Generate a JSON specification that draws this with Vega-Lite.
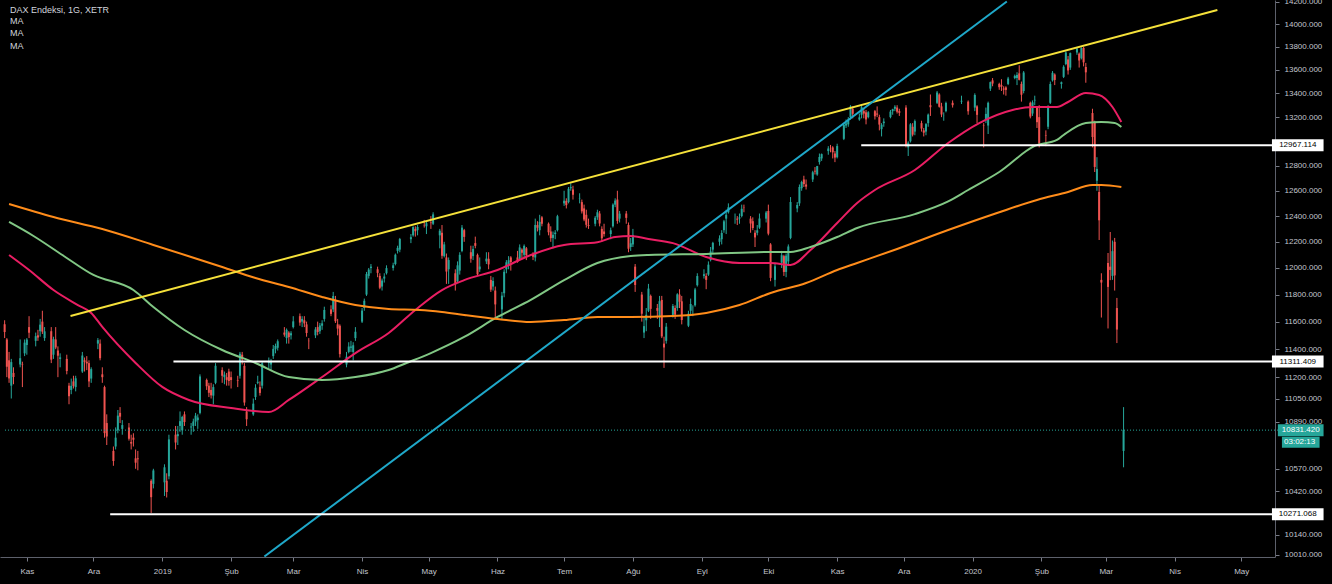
{
  "$schema": "https://vega.github.io/schema/vega-lite/v6.json",
  "width": 1275,
  "height": 557,
  "autosize": "none",
  "padding": {"left": 0, "top": 0, "right": 57, "bottom": 27},
  "background": "#000000",
  "title": {
    "text": "DAX Endeksi, 1G, XETR",
    "subtitle": ["MA", "MA", "MA"],
    "anchor": "start",
    "frame": "group",
    "orient": "top",
    "offset": -53,
    "dx": 10,
    "color": "#d1d4dc",
    "subtitleColor": "#d1d4dc",
    "font": "Liberation Sans",
    "subtitleFont": "Liberation Sans",
    "fontSize": 9,
    "subtitleFontSize": 9,
    "fontWeight": "normal",
    "subtitlePadding": 2,
    "subtitleLineHeight": 12.3
  },
  "config": {
    "view": {"stroke": null},
    "axis": {"grid": false, "labelFont": "Liberation Sans", "labelColor": "#c3c6ce", "labelFontSize": 8, "tickSize": 4, "tickColor": "#787b86", "domainColor": "#5d606b", "labelPadding": 5, "labelFlush": false, "labelOverlap": false}
  },
  "datasets": {
    "candles": [
      {"d":"2018-10-22","o":11580,"h":11610,"l":11480,"c":11524},
      {"d":"2018-10-23","o":11470,"h":11480,"l":11200,"c":11274},
      {"d":"2018-10-24","o":11320,"h":11380,"l":11160,"c":11191},
      {"d":"2018-10-25","o":11140,"h":11330,"l":11050,"c":11307},
      {"d":"2018-10-26","o":11230,"h":11270,"l":11150,"c":11201},
      {"d":"2018-10-29","o":11290,"h":11470,"l":11270,"c":11335},
      {"d":"2018-10-30","o":11290,"h":11310,"l":11130,"c":11287},
      {"d":"2018-10-31","o":11370,"h":11470,"l":11350,"c":11447},
      {"d":"2018-11-01","o":11430,"h":11480,"l":11360,"c":11469},
      {"d":"2018-11-02","o":11560,"h":11640,"l":11480,"c":11519},
      {"d":"2018-11-05","o":11460,"h":11520,"l":11420,"c":11494},
      {"d":"2018-11-06","o":11500,"h":11540,"l":11460,"c":11484},
      {"d":"2018-11-07","o":11530,"h":11620,"l":11490,"c":11578},
      {"d":"2018-11-08","o":11600,"h":11680,"l":11510,"c":11527},
      {"d":"2018-11-09","o":11480,"h":11560,"l":11460,"c":11529},
      {"d":"2018-11-12","o":11530,"h":11560,"l":11300,"c":11325},
      {"d":"2018-11-13","o":11360,"h":11490,"l":11330,"c":11472},
      {"d":"2018-11-14","o":11470,"h":11560,"l":11400,"c":11412},
      {"d":"2018-11-15","o":11390,"h":11420,"l":11200,"c":11353},
      {"d":"2018-11-16","o":11330,"h":11370,"l":11270,"c":11341},
      {"d":"2018-11-19","o":11330,"h":11360,"l":11220,"c":11244},
      {"d":"2018-11-20","o":11140,"h":11160,"l":11010,"c":11066},
      {"d":"2018-11-21","o":11110,"h":11190,"l":11080,"c":11139},
      {"d":"2018-11-22","o":11170,"h":11210,"l":11120,"c":11138},
      {"d":"2018-11-23","o":11130,"h":11210,"l":11100,"c":11192},
      {"d":"2018-11-26","o":11240,"h":11380,"l":11230,"c":11354},
      {"d":"2018-11-27","o":11320,"h":11340,"l":11240,"c":11309},
      {"d":"2018-11-28","o":11310,"h":11350,"l":11250,"c":11298},
      {"d":"2018-11-29","o":11300,"h":11320,"l":11130,"c":11170},
      {"d":"2018-11-30","o":11190,"h":11270,"l":11160,"c":11257},
      {"d":"2018-12-03","o":11440,"h":11480,"l":11400,"c":11465},
      {"d":"2018-12-04","o":11440,"h":11470,"l":11320,"c":11335},
      {"d":"2018-12-05","o":11220,"h":11270,"l":11160,"c":11200},
      {"d":"2018-12-06","o":11130,"h":11140,"l":10780,"c":10811},
      {"d":"2018-12-07","o":10880,"h":10940,"l":10730,"c":10788},
      {"d":"2018-12-10","o":10690,"h":10720,"l":10590,"c":10622},
      {"d":"2018-12-11","o":10720,"h":10850,"l":10700,"c":10780},
      {"d":"2018-12-12","o":10830,"h":10970,"l":10810,"c":10931},
      {"d":"2018-12-13","o":10950,"h":10990,"l":10880,"c":10924},
      {"d":"2018-12-14","o":10840,"h":10900,"l":10800,"c":10866},
      {"d":"2018-12-17","o":10850,"h":10880,"l":10760,"c":10772},
      {"d":"2018-12-18","o":10750,"h":10800,"l":10700,"c":10740},
      {"d":"2018-12-19","o":10780,"h":10810,"l":10720,"c":10766},
      {"d":"2018-12-20","o":10640,"h":10700,"l":10570,"c":10611},
      {"d":"2018-12-21","o":10640,"h":10690,"l":10560,"c":10634},
      {"d":"2018-12-27","o":10490,"h":10500,"l":10279,"c":10382},
      {"d":"2018-12-28","o":10470,"h":10570,"l":10440,"c":10559},
      {"d":"2019-01-02","o":10480,"h":10600,"l":10390,"c":10580},
      {"d":"2019-01-03","o":10490,"h":10540,"l":10380,"c":10416},
      {"d":"2019-01-04","o":10520,"h":10800,"l":10500,"c":10768},
      {"d":"2019-01-07","o":10800,"h":10860,"l":10700,"c":10747},
      {"d":"2019-01-08","o":10790,"h":10860,"l":10730,"c":10804},
      {"d":"2019-01-09","o":10860,"h":10960,"l":10820,"c":10893},
      {"d":"2019-01-10","o":10830,"h":10930,"l":10800,"c":10922},
      {"d":"2019-01-11","o":10940,"h":10960,"l":10860,"c":10887},
      {"d":"2019-01-14","o":10850,"h":10880,"l":10800,"c":10856},
      {"d":"2019-01-15","o":10860,"h":10910,"l":10820,"c":10891},
      {"d":"2019-01-16","o":10890,"h":10950,"l":10860,"c":10931},
      {"d":"2019-01-17","o":10900,"h":10940,"l":10840,"c":10918},
      {"d":"2019-01-18","o":10950,"h":11220,"l":10940,"c":11205},
      {"d":"2019-01-21","o":11180,"h":11190,"l":11110,"c":11136},
      {"d":"2019-01-22","o":11140,"h":11160,"l":11060,"c":11090},
      {"d":"2019-01-23","o":11110,"h":11160,"l":11050,"c":11072},
      {"d":"2019-01-24","o":11070,"h":11150,"l":11010,"c":11130},
      {"d":"2019-01-25","o":11160,"h":11300,"l":11150,"c":11281},
      {"d":"2019-01-28","o":11250,"h":11270,"l":11160,"c":11210},
      {"d":"2019-01-29","o":11200,"h":11240,"l":11150,"c":11218},
      {"d":"2019-01-30","o":11200,"h":11230,"l":11140,"c":11181},
      {"d":"2019-01-31","o":11240,"h":11260,"l":11140,"c":11173},
      {"d":"2019-02-01","o":11200,"h":11240,"l":11120,"c":11180},
      {"d":"2019-02-04","o":11180,"h":11210,"l":11130,"c":11176},
      {"d":"2019-02-05","o":11210,"h":11380,"l":11190,"c":11367},
      {"d":"2019-02-06","o":11360,"h":11380,"l":11290,"c":11325},
      {"d":"2019-02-07","o":11280,"h":11300,"l":11000,"c":11022},
      {"d":"2019-02-08","o":10960,"h":10990,"l":10860,"c":10906},
      {"d":"2019-02-11","o":10940,"h":11050,"l":10930,"c":11014},
      {"d":"2019-02-12","o":11060,"h":11150,"l":11040,"c":11126},
      {"d":"2019-02-13","o":11160,"h":11210,"l":11150,"c":11167},
      {"d":"2019-02-14","o":11130,"h":11170,"l":11070,"c":11089},
      {"d":"2019-02-15","o":11140,"h":11310,"l":11120,"c":11299},
      {"d":"2019-02-18","o":11300,"h":11340,"l":11260,"c":11309},
      {"d":"2019-02-19","o":11290,"h":11330,"l":11250,"c":11309},
      {"d":"2019-02-20","o":11350,"h":11430,"l":11330,"c":11402},
      {"d":"2019-02-21","o":11400,"h":11440,"l":11370,"c":11423},
      {"d":"2019-02-22","o":11410,"h":11470,"l":11390,"c":11457},
      {"d":"2019-02-25","o":11520,"h":11560,"l":11490,"c":11505},
      {"d":"2019-02-26","o":11480,"h":11550,"l":11440,"c":11540},
      {"d":"2019-02-27","o":11520,"h":11530,"l":11440,"c":11487},
      {"d":"2019-02-28","o":11500,"h":11530,"l":11470,"c":11515},
      {"d":"2019-03-01","o":11560,"h":11640,"l":11550,"c":11602},
      {"d":"2019-03-04","o":11640,"h":11660,"l":11570,"c":11593},
      {"d":"2019-03-05","o":11600,"h":11640,"l":11560,"c":11620},
      {"d":"2019-03-06","o":11610,"h":11640,"l":11560,"c":11587},
      {"d":"2019-03-07","o":11580,"h":11600,"l":11490,"c":11517},
      {"d":"2019-03-08","o":11460,"h":11480,"l":11400,"c":11458},
      {"d":"2019-03-11","o":11500,"h":11560,"l":11480,"c":11543},
      {"d":"2019-03-12","o":11560,"h":11600,"l":11500,"c":11524},
      {"d":"2019-03-13","o":11530,"h":11590,"l":11510,"c":11572},
      {"d":"2019-03-14","o":11570,"h":11610,"l":11540,"c":11587},
      {"d":"2019-03-15","o":11620,"h":11710,"l":11600,"c":11686},
      {"d":"2019-03-18","o":11690,"h":11720,"l":11640,"c":11657},
      {"d":"2019-03-19","o":11690,"h":11820,"l":11670,"c":11789},
      {"d":"2019-03-20","o":11760,"h":11790,"l":11590,"c":11603},
      {"d":"2019-03-21","o":11580,"h":11620,"l":11500,"c":11549},
      {"d":"2019-03-22","o":11570,"h":11580,"l":11340,"c":11364},
      {"d":"2019-03-25","o":11290,"h":11380,"l":11270,"c":11346},
      {"d":"2019-03-26","o":11380,"h":11450,"l":11370,"c":11419},
      {"d":"2019-03-27","o":11410,"h":11460,"l":11380,"c":11419},
      {"d":"2019-03-28","o":11380,"h":11450,"l":11320,"c":11428},
      {"d":"2019-03-29","o":11480,"h":11560,"l":11460,"c":11526},
      {"d":"2019-04-01","o":11600,"h":11700,"l":11590,"c":11681},
      {"d":"2019-04-02","o":11700,"h":11770,"l":11680,"c":11754},
      {"d":"2019-04-03","o":11800,"h":11970,"l":11790,"c":11954},
      {"d":"2019-04-04","o":11940,"h":12000,"l":11920,"c":11988},
      {"d":"2019-04-05","o":12000,"h":12030,"l":11960,"c":12010},
      {"d":"2019-04-08","o":11990,"h":12010,"l":11930,"c":11963},
      {"d":"2019-04-09","o":11940,"h":11960,"l":11840,"c":11851},
      {"d":"2019-04-10","o":11860,"h":11920,"l":11830,"c":11905},
      {"d":"2019-04-11","o":11920,"h":11960,"l":11890,"c":11935},
      {"d":"2019-04-12","o":11960,"h":12020,"l":11950,"c":11999},
      {"d":"2019-04-15","o":12000,"h":12040,"l":11980,"c":12020},
      {"d":"2019-04-16","o":12030,"h":12110,"l":12020,"c":12101},
      {"d":"2019-04-17","o":12130,"h":12170,"l":12110,"c":12153},
      {"d":"2019-04-18","o":12140,"h":12230,"l":12120,"c":12222},
      {"d":"2019-04-23","o":12220,"h":12260,"l":12190,"c":12236},
      {"d":"2019-04-24","o":12250,"h":12320,"l":12240,"c":12314},
      {"d":"2019-04-25","o":12300,"h":12320,"l":12240,"c":12282},
      {"d":"2019-04-26","o":12290,"h":12330,"l":12250,"c":12315},
      {"d":"2019-04-29","o":12330,"h":12370,"l":12310,"c":12328},
      {"d":"2019-04-30","o":12320,"h":12360,"l":12260,"c":12344},
      {"d":"2019-05-02","o":12350,"h":12400,"l":12300,"c":12345},
      {"d":"2019-05-03","o":12340,"h":12430,"l":12330,"c":12413},
      {"d":"2019-05-06","o":12250,"h":12300,"l":12150,"c":12286},
      {"d":"2019-05-07","o":12270,"h":12330,"l":12070,"c":12093},
      {"d":"2019-05-08","o":12090,"h":12200,"l":12080,"c":12180},
      {"d":"2019-05-09","o":12080,"h":12110,"l":11880,"c":11973},
      {"d":"2019-05-10","o":11990,"h":12080,"l":11880,"c":12060},
      {"d":"2019-05-13","o":11960,"h":11990,"l":11830,"c":11877},
      {"d":"2019-05-14","o":11900,"h":12050,"l":11890,"c":12020},
      {"d":"2019-05-15","o":11980,"h":12120,"l":11950,"c":12100},
      {"d":"2019-05-16","o":12130,"h":12330,"l":12120,"c":12310},
      {"d":"2019-05-17","o":12290,"h":12300,"l":12200,"c":12238},
      {"d":"2019-05-20","o":12120,"h":12170,"l":12040,"c":12070},
      {"d":"2019-05-21","o":12090,"h":12170,"l":12060,"c":12145},
      {"d":"2019-05-22","o":12190,"h":12240,"l":12150,"c":12169},
      {"d":"2019-05-23","o":12100,"h":12110,"l":11940,"c":11952},
      {"d":"2019-05-24","o":11990,"h":12080,"l":11970,"c":12011},
      {"d":"2019-05-27","o":12050,"h":12120,"l":12030,"c":12071},
      {"d":"2019-05-28","o":12070,"h":12120,"l":11990,"c":12027},
      {"d":"2019-05-29","o":11910,"h":11940,"l":11820,"c":11837},
      {"d":"2019-05-30","o":11860,"h":11930,"l":11830,"c":11902},
      {"d":"2019-05-31","o":11830,"h":11860,"l":11620,"c":11727},
      {"d":"2019-06-03","o":11690,"h":11820,"l":11620,"c":11792},
      {"d":"2019-06-04","o":11810,"h":11990,"l":11780,"c":11971},
      {"d":"2019-06-05","o":11990,"h":12060,"l":11960,"c":12043},
      {"d":"2019-06-06","o":12030,"h":12090,"l":11990,"c":12059},
      {"d":"2019-06-07","o":12080,"h":12090,"l":11980,"c":12045},
      {"d":"2019-06-10","o":12080,"h":12130,"l":12040,"c":12045},
      {"d":"2019-06-11","o":12070,"h":12180,"l":12060,"c":12157},
      {"d":"2019-06-12","o":12140,"h":12150,"l":12070,"c":12116},
      {"d":"2019-06-13","o":12100,"h":12180,"l":12080,"c":12169},
      {"d":"2019-06-14","o":12150,"h":12160,"l":12060,"c":12096},
      {"d":"2019-06-17","o":12100,"h":12120,"l":12060,"c":12086},
      {"d":"2019-06-18","o":12080,"h":12380,"l":12050,"c":12331},
      {"d":"2019-06-19","o":12330,"h":12360,"l":12280,"c":12309},
      {"d":"2019-06-20","o":12290,"h":12410,"l":12250,"c":12355},
      {"d":"2019-06-21","o":12390,"h":12400,"l":12320,"c":12340},
      {"d":"2019-06-24","o":12340,"h":12350,"l":12250,"c":12274},
      {"d":"2019-06-25","o":12280,"h":12320,"l":12200,"c":12228},
      {"d":"2019-06-26","o":12230,"h":12280,"l":12150,"c":12254},
      {"d":"2019-06-27","o":12260,"h":12290,"l":12220,"c":12271},
      {"d":"2019-06-28","o":12290,"h":12410,"l":12280,"c":12399},
      {"d":"2019-07-01","o":12500,"h":12600,"l":12480,"c":12521},
      {"d":"2019-07-02","o":12520,"h":12540,"l":12460,"c":12486},
      {"d":"2019-07-03","o":12510,"h":12630,"l":12500,"c":12616},
      {"d":"2019-07-04","o":12620,"h":12660,"l":12600,"c":12629},
      {"d":"2019-07-05","o":12610,"h":12640,"l":12530,"c":12568},
      {"d":"2019-07-08","o":12540,"h":12580,"l":12500,"c":12543},
      {"d":"2019-07-09","o":12510,"h":12530,"l":12420,"c":12437},
      {"d":"2019-07-10","o":12460,"h":12490,"l":12360,"c":12373},
      {"d":"2019-07-11","o":12410,"h":12450,"l":12310,"c":12332},
      {"d":"2019-07-12","o":12330,"h":12380,"l":12300,"c":12323},
      {"d":"2019-07-15","o":12340,"h":12400,"l":12320,"c":12387},
      {"d":"2019-07-16","o":12390,"h":12450,"l":12370,"c":12430},
      {"d":"2019-07-17","o":12420,"h":12440,"l":12320,"c":12342},
      {"d":"2019-07-18","o":12300,"h":12320,"l":12200,"c":12227},
      {"d":"2019-07-19","o":12280,"h":12340,"l":12240,"c":12260},
      {"d":"2019-07-22","o":12260,"h":12310,"l":12220,"c":12289},
      {"d":"2019-07-23","o":12320,"h":12500,"l":12310,"c":12490},
      {"d":"2019-07-24","o":12490,"h":12540,"l":12470,"c":12522},
      {"d":"2019-07-25","o":12530,"h":12600,"l":12340,"c":12362},
      {"d":"2019-07-26","o":12380,"h":12440,"l":12350,"c":12419},
      {"d":"2019-07-29","o":12420,"h":12440,"l":12340,"c":12386},
      {"d":"2019-07-30","o":12330,"h":12350,"l":12120,"c":12147},
      {"d":"2019-07-31","o":12160,"h":12230,"l":12130,"c":12189},
      {"d":"2019-08-01","o":12180,"h":12300,"l":12160,"c":12253},
      {"d":"2019-08-02","o":12010,"h":12030,"l":11820,"c":11872},
      {"d":"2019-08-05","o":11800,"h":11820,"l":11600,"c":11658},
      {"d":"2019-08-06","o":11520,"h":11640,"l":11480,"c":11567},
      {"d":"2019-08-07","o":11610,"h":11700,"l":11530,"c":11650},
      {"d":"2019-08-08","o":11680,"h":11880,"l":11670,"c":11845},
      {"d":"2019-08-09","o":11790,"h":11800,"l":11620,"c":11694},
      {"d":"2019-08-12","o":11700,"h":11730,"l":11620,"c":11680},
      {"d":"2019-08-13","o":11640,"h":11790,"l":11560,"c":11751},
      {"d":"2019-08-14","o":11760,"h":11790,"l":11480,"c":11492},
      {"d":"2019-08-15","o":11440,"h":11490,"l":11266,"c":11412},
      {"d":"2019-08-16","o":11460,"h":11590,"l":11440,"c":11563},
      {"d":"2019-08-19","o":11650,"h":11730,"l":11630,"c":11715},
      {"d":"2019-08-20","o":11700,"h":11720,"l":11620,"c":11651},
      {"d":"2019-08-21","o":11700,"h":11810,"l":11680,"c":11802},
      {"d":"2019-08-22","o":11800,"h":11840,"l":11700,"c":11747},
      {"d":"2019-08-23","o":11750,"h":11790,"l":11580,"c":11612},
      {"d":"2019-08-26","o":11570,"h":11680,"l":11560,"c":11658},
      {"d":"2019-08-27","o":11680,"h":11770,"l":11650,"c":11730},
      {"d":"2019-08-28","o":11700,"h":11720,"l":11640,"c":11701},
      {"d":"2019-08-29","o":11720,"h":11850,"l":11710,"c":11838},
      {"d":"2019-08-30","o":11870,"h":11960,"l":11860,"c":11939},
      {"d":"2019-09-02","o":11940,"h":11990,"l":11920,"c":11953},
      {"d":"2019-09-03","o":11940,"h":11960,"l":11840,"c":11910},
      {"d":"2019-09-04","o":11950,"h":12050,"l":11940,"c":12025},
      {"d":"2019-09-05","o":12060,"h":12160,"l":12050,"c":12126},
      {"d":"2019-09-06","o":12140,"h":12200,"l":12110,"c":12192},
      {"d":"2019-09-09","o":12200,"h":12250,"l":12170,"c":12226},
      {"d":"2019-09-10","o":12220,"h":12290,"l":12180,"c":12268},
      {"d":"2019-09-11","o":12290,"h":12370,"l":12270,"c":12359},
      {"d":"2019-09-12","o":12380,"h":12450,"l":12260,"c":12410},
      {"d":"2019-09-13","o":12430,"h":12500,"l":12420,"c":12469},
      {"d":"2019-09-16","o":12380,"h":12420,"l":12340,"c":12380},
      {"d":"2019-09-17","o":12380,"h":12400,"l":12330,"c":12372},
      {"d":"2019-09-18","o":12380,"h":12420,"l":12340,"c":12390},
      {"d":"2019-09-19","o":12400,"h":12490,"l":12390,"c":12457},
      {"d":"2019-09-20","o":12470,"h":12490,"l":12430,"c":12468},
      {"d":"2019-09-23","o":12380,"h":12400,"l":12270,"c":12342},
      {"d":"2019-09-24","o":12360,"h":12390,"l":12290,"c":12307},
      {"d":"2019-09-25","o":12270,"h":12290,"l":12160,"c":12234},
      {"d":"2019-09-26","o":12270,"h":12330,"l":12250,"c":12289},
      {"d":"2019-09-27","o":12310,"h":12420,"l":12300,"c":12381},
      {"d":"2019-09-30","o":12380,"h":12440,"l":12350,"c":12428},
      {"d":"2019-10-01","o":12440,"h":12490,"l":12250,"c":12263},
      {"d":"2019-10-02","o":12180,"h":12190,"l":11900,"c":11925},
      {"d":"2019-10-04","o":11910,"h":12040,"l":11860,"c":12013},
      {"d":"2019-10-07","o":12040,"h":12130,"l":12000,"c":12097},
      {"d":"2019-10-08","o":12090,"h":12100,"l":11940,"c":11970},
      {"d":"2019-10-09","o":11970,"h":12110,"l":11930,"c":12094},
      {"d":"2019-10-10","o":12050,"h":12180,"l":12020,"c":12164},
      {"d":"2019-10-11","o":12230,"h":12550,"l":12220,"c":12511},
      {"d":"2019-10-14","o":12460,"h":12510,"l":12430,"c":12487},
      {"d":"2019-10-15","o":12500,"h":12650,"l":12480,"c":12630},
      {"d":"2019-10-16","o":12620,"h":12680,"l":12600,"c":12670},
      {"d":"2019-10-17","o":12690,"h":12720,"l":12630,"c":12654},
      {"d":"2019-10-18","o":12650,"h":12690,"l":12610,"c":12633},
      {"d":"2019-10-21","o":12690,"h":12760,"l":12670,"c":12748},
      {"d":"2019-10-22","o":12760,"h":12790,"l":12730,"c":12754},
      {"d":"2019-10-23","o":12730,"h":12800,"l":12720,"c":12798},
      {"d":"2019-10-24","o":12830,"h":12900,"l":12810,"c":12872},
      {"d":"2019-10-25","o":12860,"h":12900,"l":12840,"c":12895},
      {"d":"2019-10-28","o":12920,"h":12960,"l":12890,"c":12941},
      {"d":"2019-10-29","o":12940,"h":12970,"l":12910,"c":12939},
      {"d":"2019-10-30","o":12950,"h":12960,"l":12860,"c":12910},
      {"d":"2019-10-31","o":12900,"h":12920,"l":12830,"c":12867},
      {"d":"2019-11-01","o":12870,"h":12980,"l":12860,"c":12961},
      {"d":"2019-11-04","o":13020,"h":13150,"l":13010,"c":13136},
      {"d":"2019-11-05","o":13130,"h":13180,"l":13110,"c":13148},
      {"d":"2019-11-06","o":13140,"h":13200,"l":13120,"c":13179},
      {"d":"2019-11-07","o":13200,"h":13300,"l":13180,"c":13289},
      {"d":"2019-11-08","o":13270,"h":13290,"l":13190,"c":13228},
      {"d":"2019-11-11","o":13180,"h":13230,"l":13170,"c":13198},
      {"d":"2019-11-12","o":13220,"h":13310,"l":13190,"c":13283},
      {"d":"2019-11-13","o":13250,"h":13270,"l":13190,"c":13230},
      {"d":"2019-11-14","o":13240,"h":13260,"l":13140,"c":13180},
      {"d":"2019-11-15","o":13200,"h":13250,"l":13190,"c":13241},
      {"d":"2019-11-18","o":13250,"h":13260,"l":13180,"c":13207},
      {"d":"2019-11-19","o":13230,"h":13290,"l":13200,"c":13221},
      {"d":"2019-11-20","o":13200,"h":13220,"l":13090,"c":13138},
      {"d":"2019-11-21","o":13100,"h":13150,"l":13040,"c":13137},
      {"d":"2019-11-22","o":13150,"h":13190,"l":13120,"c":13163},
      {"d":"2019-11-25","o":13200,"h":13260,"l":13190,"c":13246},
      {"d":"2019-11-26","o":13250,"h":13270,"l":13220,"c":13266},
      {"d":"2019-11-27","o":13270,"h":13300,"l":13250,"c":13287},
      {"d":"2019-11-28","o":13280,"h":13300,"l":13230,"c":13245},
      {"d":"2019-11-29","o":13250,"h":13270,"l":13210,"c":13236},
      {"d":"2019-12-02","o":13280,"h":13300,"l":12950,"c":12965},
      {"d":"2019-12-03","o":12950,"h":13000,"l":12880,"c":12989},
      {"d":"2019-12-04","o":13000,"h":13150,"l":12990,"c":13140},
      {"d":"2019-12-05","o":13120,"h":13150,"l":13040,"c":13055},
      {"d":"2019-12-06","o":13080,"h":13180,"l":13050,"c":13167},
      {"d":"2019-12-09","o":13150,"h":13170,"l":13080,"c":13105},
      {"d":"2019-12-10","o":13090,"h":13110,"l":13040,"c":13071},
      {"d":"2019-12-11","o":13080,"h":13150,"l":13050,"c":13142},
      {"d":"2019-12-12","o":13150,"h":13230,"l":13120,"c":13221},
      {"d":"2019-12-13","o":13300,"h":13390,"l":13210,"c":13283},
      {"d":"2019-12-16","o":13320,"h":13420,"l":13310,"c":13407},
      {"d":"2019-12-17","o":13390,"h":13400,"l":13280,"c":13287},
      {"d":"2019-12-18","o":13290,"h":13320,"l":13200,"c":13222},
      {"d":"2019-12-19","o":13210,"h":13240,"l":13170,"c":13211},
      {"d":"2019-12-20","o":13250,"h":13330,"l":13240,"c":13319},
      {"d":"2019-12-23","o":13320,"h":13340,"l":13280,"c":13300},
      {"d":"2019-12-27","o":13330,"h":13380,"l":13310,"c":13337},
      {"d":"2019-12-30","o":13330,"h":13340,"l":13220,"c":13249},
      {"d":"2020-01-02","o":13280,"h":13400,"l":13250,"c":13386},
      {"d":"2020-01-03","o":13290,"h":13300,"l":13150,"c":13219},
      {"d":"2020-01-06","o":13130,"h":13150,"l":12950,"c":13127},
      {"d":"2020-01-07","o":13180,"h":13280,"l":13150,"c":13227},
      {"d":"2020-01-08","o":13130,"h":13330,"l":13060,"c":13320},
      {"d":"2020-01-09","o":13440,"h":13500,"l":13420,"c":13495},
      {"d":"2020-01-10","o":13510,"h":13530,"l":13460,"c":13483},
      {"d":"2020-01-13","o":13480,"h":13490,"l":13430,"c":13452},
      {"d":"2020-01-14","o":13470,"h":13520,"l":13420,"c":13456},
      {"d":"2020-01-15","o":13440,"h":13460,"l":13390,"c":13432},
      {"d":"2020-01-16","o":13450,"h":13460,"l":13380,"c":13429},
      {"d":"2020-01-17","o":13480,"h":13540,"l":13470,"c":13526},
      {"d":"2020-01-20","o":13530,"h":13560,"l":13520,"c":13549},
      {"d":"2020-01-21","o":13530,"h":13580,"l":13470,"c":13556},
      {"d":"2020-01-22","o":13570,"h":13640,"l":13510,"c":13515},
      {"d":"2020-01-23","o":13480,"h":13500,"l":13330,"c":13388},
      {"d":"2020-01-24","o":13420,"h":13590,"l":13400,"c":13577},
      {"d":"2020-01-27","o":13320,"h":13330,"l":13190,"c":13205},
      {"d":"2020-01-28","o":13230,"h":13340,"l":13210,"c":13324},
      {"d":"2020-01-29","o":13340,"h":13380,"l":13300,"c":13345},
      {"d":"2020-01-30","o":13280,"h":13290,"l":13110,"c":13158},
      {"d":"2020-01-31","o":13200,"h":13300,"l":12950,"c":12982},
      {"d":"2020-02-03","o":13050,"h":13090,"l":12960,"c":13046},
      {"d":"2020-02-04","o":13120,"h":13300,"l":13100,"c":13282},
      {"d":"2020-02-05","o":13320,"h":13500,"l":13310,"c":13479},
      {"d":"2020-02-06","o":13510,"h":13590,"l":13500,"c":13575},
      {"d":"2020-02-07","o":13560,"h":13570,"l":13470,"c":13514},
      {"d":"2020-02-10","o":13480,"h":13500,"l":13440,"c":13494},
      {"d":"2020-02-11","o":13540,"h":13640,"l":13530,"c":13627},
      {"d":"2020-02-12","o":13650,"h":13760,"l":13640,"c":13750},
      {"d":"2020-02-13","o":13690,"h":13720,"l":13560,"c":13595},
      {"d":"2020-02-14","o":13620,"h":13750,"l":13600,"c":13745},
      {"d":"2020-02-17","o":13750,"h":13790,"l":13730,"c":13784},
      {"d":"2020-02-18","o":13740,"h":13750,"l":13620,"c":13681},
      {"d":"2020-02-19","o":13700,"h":13795,"l":13690,"c":13789},
      {"d":"2020-02-20","o":13790,"h":13800,"l":13630,"c":13665},
      {"d":"2020-02-21","o":13625,"h":13660,"l":13490,"c":13579},
      {"d":"2020-02-24","o":13234,"h":13270,"l":12950,"c":13035},
      {"d":"2020-02-25","o":13151,"h":13170,"l":12750,"c":12791},
      {"d":"2020-02-26","o":12680,"h":12870,"l":12600,"c":12775},
      {"d":"2020-02-27","o":12590,"h":12640,"l":12214,"c":12367},
      {"d":"2020-02-28","o":11910,"h":11960,"l":11630,"c":11890},
      {"d":"2020-03-02","o":12038,"h":12114,"l":11550,"c":11857},
      {"d":"2020-03-03","o":12010,"h":12276,"l":11908,"c":11985},
      {"d":"2020-03-04","o":11940,"h":12210,"l":11910,"c":12128},
      {"d":"2020-03-05","o":12200,"h":12230,"l":11830,"c":11944},
      {"d":"2020-03-06","o":11700,"h":11775,"l":11444,"c":11542},
      {"d":"2020-03-09","o":10690,"h":10990,"l":10580,"c":10831.42}
    ],
    "ma": [
      {"s":"MA1","d":"2018-10-24","v":12099},
      {"s":"MA1","d":"2018-11-02","v":11985},
      {"s":"MA1","d":"2018-11-13","v":11834},
      {"s":"MA1","d":"2018-11-24","v":11722},
      {"s":"MA1","d":"2018-11-30","v":11664},
      {"s":"MA1","d":"2018-12-05","v":11561},
      {"s":"MA1","d":"2018-12-20","v":11301},
      {"s":"MA1","d":"2019-01-01","v":11131},
      {"s":"MA1","d":"2019-01-13","v":11040},
      {"s":"MA1","d":"2019-02-01","v":10984},
      {"s":"MA1","d":"2019-02-18","v":10956},
      {"s":"MA1","d":"2019-02-27","v":11040},
      {"s":"MA1","d":"2019-03-14","v":11201},
      {"s":"MA1","d":"2019-03-29","v":11372},
      {"s":"MA1","d":"2019-04-13","v":11517},
      {"s":"MA1","d":"2019-04-25","v":11686},
      {"s":"MA1","d":"2019-05-07","v":11834},
      {"s":"MA1","d":"2019-05-17","v":11908},
      {"s":"MA1","d":"2019-06-01","v":11985},
      {"s":"MA1","d":"2019-06-16","v":12099},
      {"s":"MA1","d":"2019-07-01","v":12176},
      {"s":"MA1","d":"2019-07-16","v":12197},
      {"s":"MA1","d":"2019-07-24","v":12237},
      {"s":"MA1","d":"2019-07-31","v":12245},
      {"s":"MA1","d":"2019-08-08","v":12222},
      {"s":"MA1","d":"2019-08-19","v":12190},
      {"s":"MA1","d":"2019-09-03","v":12084},
      {"s":"MA1","d":"2019-09-18","v":12038},
      {"s":"MA1","d":"2019-10-02","v":12038},
      {"s":"MA1","d":"2019-10-11","v":12023},
      {"s":"MA1","d":"2019-10-20","v":12137},
      {"s":"MA1","d":"2019-11-01","v":12346},
      {"s":"MA1","d":"2019-11-10","v":12503},
      {"s":"MA1","d":"2019-11-18","v":12606},
      {"s":"MA1","d":"2019-12-06","v":12766},
      {"s":"MA1","d":"2019-12-21","v":12986},
      {"s":"MA1","d":"2020-01-04","v":13151},
      {"s":"MA1","d":"2020-01-19","v":13260},
      {"s":"MA1","d":"2020-01-28","v":13285},
      {"s":"MA1","d":"2020-02-08","v":13285},
      {"s":"MA1","d":"2020-02-13","v":13327},
      {"s":"MA1","d":"2020-02-21","v":13403},
      {"s":"MA1","d":"2020-02-27","v":13386},
      {"s":"MA1","d":"2020-03-04","v":13285},
      {"s":"MA1","d":"2020-03-08","v":13159},
      {"s":"MA2","d":"2018-10-24","v":12354},
      {"s":"MA2","d":"2018-11-04","v":12245},
      {"s":"MA2","d":"2018-11-17","v":12099},
      {"s":"MA2","d":"2018-12-01","v":11947},
      {"s":"MA2","d":"2018-12-19","v":11834},
      {"s":"MA2","d":"2018-12-28","v":11708},
      {"s":"MA2","d":"2019-01-11","v":11539},
      {"s":"MA2","d":"2019-01-28","v":11394},
      {"s":"MA2","d":"2019-02-12","v":11301},
      {"s":"MA2","d":"2019-02-27","v":11201},
      {"s":"MA2","d":"2019-03-14","v":11180},
      {"s":"MA2","d":"2019-03-29","v":11201},
      {"s":"MA2","d":"2019-04-13","v":11251},
      {"s":"MA2","d":"2019-04-21","v":11301},
      {"s":"MA2","d":"2019-05-02","v":11372},
      {"s":"MA2","d":"2019-05-17","v":11488},
      {"s":"MA2","d":"2019-06-01","v":11634},
      {"s":"MA2","d":"2019-06-16","v":11760},
      {"s":"MA2","d":"2019-07-01","v":11908},
      {"s":"MA2","d":"2019-07-16","v":12038},
      {"s":"MA2","d":"2019-07-31","v":12091},
      {"s":"MA2","d":"2019-08-08","v":12099},
      {"s":"MA2","d":"2019-09-03","v":12107},
      {"s":"MA2","d":"2019-10-02","v":12122},
      {"s":"MA2","d":"2019-10-11","v":12122},
      {"s":"MA2","d":"2019-10-20","v":12160},
      {"s":"MA2","d":"2019-11-01","v":12237},
      {"s":"MA2","d":"2019-11-10","v":12307},
      {"s":"MA2","d":"2019-12-06","v":12415},
      {"s":"MA2","d":"2019-12-21","v":12515},
      {"s":"MA2","d":"2019-12-30","v":12606},
      {"s":"MA2","d":"2020-01-13","v":12750},
      {"s":"MA2","d":"2020-01-29","v":12962},
      {"s":"MA2","d":"2020-02-08","v":13011},
      {"s":"MA2","d":"2020-02-11","v":13052},
      {"s":"MA2","d":"2020-02-21","v":13151},
      {"s":"MA2","d":"2020-02-28","v":13159},
      {"s":"MA2","d":"2020-03-05","v":13151},
      {"s":"MA2","d":"2020-03-08","v":13118},
      {"s":"MA3","d":"2018-10-24","v":12495},
      {"s":"MA3","d":"2018-11-13","v":12393},
      {"s":"MA3","d":"2018-12-05","v":12299},
      {"s":"MA3","d":"2018-12-28","v":12176},
      {"s":"MA3","d":"2019-01-14","v":12084},
      {"s":"MA3","d":"2019-01-28","v":12007},
      {"s":"MA3","d":"2019-02-12","v":11924},
      {"s":"MA3","d":"2019-02-27","v":11857},
      {"s":"MA3","d":"2019-03-14","v":11782},
      {"s":"MA3","d":"2019-03-29","v":11722},
      {"s":"MA3","d":"2019-04-13","v":11693},
      {"s":"MA3","d":"2019-04-27","v":11686},
      {"s":"MA3","d":"2019-05-07","v":11671},
      {"s":"MA3","d":"2019-05-17","v":11649},
      {"s":"MA3","d":"2019-06-01","v":11619},
      {"s":"MA3","d":"2019-06-16","v":11597},
      {"s":"MA3","d":"2019-07-01","v":11612},
      {"s":"MA3","d":"2019-07-16","v":11634},
      {"s":"MA3","d":"2019-07-31","v":11634},
      {"s":"MA3","d":"2019-08-19","v":11641},
      {"s":"MA3","d":"2019-09-03","v":11664},
      {"s":"MA3","d":"2019-09-18","v":11722},
      {"s":"MA3","d":"2019-10-02","v":11812},
      {"s":"MA3","d":"2019-10-18","v":11887},
      {"s":"MA3","d":"2019-11-01","v":11985},
      {"s":"MA3","d":"2019-11-10","v":12038},
      {"s":"MA3","d":"2019-11-28","v":12145},
      {"s":"MA3","d":"2019-12-21","v":12291},
      {"s":"MA3","d":"2020-01-12","v":12424},
      {"s":"MA3","d":"2020-01-30","v":12527},
      {"s":"MA3","d":"2020-02-13","v":12590},
      {"s":"MA3","d":"2020-02-24","v":12646},
      {"s":"MA3","d":"2020-02-28","v":12646},
      {"s":"MA3","d":"2020-03-08","v":12630}
    ],
    "trend": [
      {"s":"yellow","d1":"2018-11-20T16:00:00Z","p1":11641,"d2":"2020-04-20T06:00:00Z","p2":14124},
      {"s":"cyan","d1":"2019-02-16T00:00:00Z","p1":10000,"d2":"2020-01-16T10:00:00Z","p2":14200}
    ],
    "levels": [
      {"p":12967.114,"d1":"2019-11-11T20:00:00Z"},
      {"p":11311.409,"d1":"2019-01-06T01:00:00Z"},
      {"p":10271.068,"d1":"2018-12-08T13:00:00Z"}
    ],
    "last": [
      {"p":10831.42,"t":"03:02:13"}
    ]
  },
  "layer": [
    {
      "data": {"name": "candles"},
      "mark": {"type": "rule", "strokeWidth": 1},
      "encoding": {
        "x": {"field": "d", "type": "temporal",
          "scale": {"type": "utc", "nice": false, "domain": [{"year":2018,"month":10,"date":22,"hours":4,"utc":true},{"year":2020,"month":5,"date":13,"hours":23,"utc":true}]},
          "axis": {"title": null, "orient": "bottom", "tickCount": {"interval": "month", "step": 1},
            "labelExpr": "utcmonth(datum.value) == 0 ? utcFormat(datum.value, '%Y') : ['Oca','Şub','Mar','Nis','May','Haz','Tem','Ağu','Eyl','Eki','Kas','Ara'][utcmonth(datum.value)]",
            "labelColor": "#c3c6ce", "labelFontSize": 8, "tickSize": 4, "tickColor": "#787b86", "domainColor": "#5d606b", "labelPadding": 6, "labelFlush": false, "labelOverlap": false}},
        "y": {"field": "l", "type": "quantitative",
          "scale": {"type": "log", "nice": false, "domain": [9997, 14214]},
          "axis": {"title": null, "orient": "right", "values": [10010,10140,10420,10570,10890,11050,11200,11400,11600,11800,12000,12200,12400,12600,12800,13200,13400,13600,13800,14000,14200],
            "format": ".3f", "labelColor": "#c3c6ce", "labelFontSize": 8, "tickSize": 4, "tickColor": "#787b86", "domainColor": "#5d606b", "labelPadding": 5, "labelFlush": false, "labelOverlap": false, "labelBaseline": "middle"}},
        "y2": {"field": "h"},
        "color": {"condition": {"test": "datum.c >= datum.o", "value": "#26a69a"}, "value": "#ef5350"}
      }
    },
    {
      "data": {"name": "candles"},
      "mark": {"type": "bar", "size": 2},
      "encoding": {
        "x": {"field": "d", "type": "temporal", "scale": {"type": "utc", "nice": false, "domain": [{"year":2018,"month":10,"date":22,"hours":4,"utc":true},{"year":2020,"month":5,"date":13,"hours":23,"utc":true}]}},
        "y": {"field": "o", "type": "quantitative", "scale": {"type": "log", "nice": false, "domain": [9997, 14214]}},
        "y2": {"field": "c"},
        "color": {"condition": {"test": "datum.c >= datum.o", "value": "#26a69a"}, "value": "#ef5350"}
      }
    },
    {
      "data": {"name": "ma"},
      "mark": {"type": "line", "strokeWidth": 2, "interpolate": "monotone"},
      "encoding": {
        "x": {"field": "d", "type": "temporal", "scale": {"type": "utc", "nice": false, "domain": [{"year":2018,"month":10,"date":22,"hours":4,"utc":true},{"year":2020,"month":5,"date":13,"hours":23,"utc":true}]}},
        "y": {"field": "v", "type": "quantitative", "scale": {"type": "log", "nice": false, "domain": [9997, 14214]}},
        "color": {"field": "s", "type": "nominal", "scale": {"domain": ["MA1","MA2","MA3"], "range": ["#e91e63","#81c784","#ff8c1a"]}, "legend": null}
      }
    },
    {
      "data": {"name": "trend"},
      "mark": {"type": "rule", "strokeWidth": 2, "clip": true},
      "encoding": {
        "x": {"field": "d1", "type": "temporal", "scale": {"type": "utc", "nice": false, "domain": [{"year":2018,"month":10,"date":22,"hours":4,"utc":true},{"year":2020,"month":5,"date":13,"hours":23,"utc":true}]}},
        "x2": {"field": "d2"},
        "y": {"field": "p1", "type": "quantitative", "scale": {"type": "log", "nice": false, "domain": [9997, 14214]}},
        "y2": {"field": "p2"},
        "stroke": {"field": "s", "type": "nominal", "scale": {"domain": ["yellow","cyan"], "range": ["#f5e13a","#1fa8c9"]}, "legend": null}
      }
    },
    {
      "data": {"name": "levels"},
      "mark": {"type": "rule", "strokeWidth": 2, "color": "#ffffff"},
      "encoding": {
        "x": {"field": "d1", "type": "temporal", "scale": {"type": "utc", "nice": false, "domain": [{"year":2018,"month":10,"date":22,"hours":4,"utc":true},{"year":2020,"month":5,"date":13,"hours":23,"utc":true}]}},
        "x2": {"datum": {"year":2020,"month":5,"date":15,"hours":0,"utc":true}},
        "y": {"field": "p", "type": "quantitative", "scale": {"type": "log", "nice": false, "domain": [9997, 14214]}}
      }
    },
    {
      "data": {"name": "last"},
      "mark": {"type": "rule", "strokeWidth": 1, "color": "#26a69a", "strokeDash": [1, 2]},
      "encoding": {
        "x": {"datum": {"year":2018,"month":10,"date":22,"hours":4,"utc":true}, "type": "temporal", "scale": {"type": "utc", "nice": false, "domain": [{"year":2018,"month":10,"date":22,"hours":4,"utc":true},{"year":2020,"month":5,"date":13,"hours":23,"utc":true}]}},
        "x2": {"datum": {"year":2020,"month":5,"date":17,"hours":12,"utc":true}},
        "y": {"field": "p", "type": "quantitative", "scale": {"type": "log", "nice": false, "domain": [9997, 14214]}}
      }
    },
    {
      "data": {"name": "levels"},
      "mark": {"type": "rule", "strokeWidth": 12, "color": "#ffffff", "strokeCap": "butt"},
      "encoding": {
        "x": {"datum": {"year":2020,"month":5,"date":14,"hours":20,"utc":true}, "type": "temporal", "scale": {"type": "utc", "nice": false, "domain": [{"year":2018,"month":10,"date":22,"hours":4,"utc":true},{"year":2020,"month":5,"date":13,"hours":23,"utc":true}]}},
        "x2": {"datum": {"year":2020,"month":6,"date":7,"hours":2,"utc":true}},
        "y": {"field": "p", "type": "quantitative", "scale": {"type": "log", "nice": false, "domain": [9997, 14214]}}
      }
    },
    {
      "data": {"name": "levels"},
      "mark": {"type": "text", "color": "#000000", "font": "Liberation Sans", "fontSize": 8, "align": "center", "baseline": "middle"},
      "encoding": {
        "x": {"datum": {"year":2020,"month":5,"date":26,"hours":11,"utc":true}, "type": "temporal", "scale": {"type": "utc", "nice": false, "domain": [{"year":2018,"month":10,"date":22,"hours":4,"utc":true},{"year":2020,"month":5,"date":13,"hours":23,"utc":true}]}},
        "y": {"field": "p", "type": "quantitative", "scale": {"type": "log", "nice": false, "domain": [9997, 14214]}},
        "text": {"field": "p", "type": "quantitative", "format": ".3f"}
      }
    },
    {
      "data": {"name": "last"},
      "mark": {"type": "rule", "strokeWidth": 12, "color": "#26a69a", "strokeCap": "butt"},
      "encoding": {
        "x": {"datum": {"year":2020,"month":5,"date":17,"hours":12,"utc":true}, "type": "temporal", "scale": {"type": "utc", "nice": false, "domain": [{"year":2018,"month":10,"date":22,"hours":4,"utc":true},{"year":2020,"month":5,"date":13,"hours":23,"utc":true}]}},
        "x2": {"datum": {"year":2020,"month":6,"date":7,"hours":2,"utc":true}},
        "y": {"field": "p", "type": "quantitative", "scale": {"type": "log", "nice": false, "domain": [9997, 14214]}}
      }
    },
    {
      "data": {"name": "last"},
      "mark": {"type": "text", "color": "#ffffff", "font": "Liberation Sans", "fontSize": 8, "align": "center", "baseline": "middle"},
      "encoding": {
        "x": {"datum": {"year":2020,"month":5,"date":27,"hours":19,"utc":true}, "type": "temporal", "scale": {"type": "utc", "nice": false, "domain": [{"year":2018,"month":10,"date":22,"hours":4,"utc":true},{"year":2020,"month":5,"date":13,"hours":23,"utc":true}]}},
        "y": {"field": "p", "type": "quantitative", "scale": {"type": "log", "nice": false, "domain": [9997, 14214]}},
        "text": {"field": "p", "type": "quantitative", "format": ".3f"}
      }
    },
    {
      "data": {"name": "last"},
      "mark": {"type": "rule", "strokeWidth": 11, "color": "#26a69a", "strokeCap": "butt"},
      "encoding": {
        "x": {"datum": {"year":2020,"month":5,"date":19,"hours":8,"utc":true}, "type": "temporal", "scale": {"type": "utc", "nice": false, "domain": [{"year":2018,"month":10,"date":22,"hours":4,"utc":true},{"year":2020,"month":5,"date":13,"hours":23,"utc":true}]}},
        "x2": {"datum": {"year":2020,"month":6,"date":5,"hours":7,"utc":true}},
        "y": {"datum": 10748, "type": "quantitative", "scale": {"type": "log", "nice": false, "domain": [9997, 14214]}}
      }
    },
    {
      "data": {"name": "last"},
      "mark": {"type": "text", "color": "#ffffff", "font": "Liberation Sans", "fontSize": 8, "align": "center", "baseline": "middle"},
      "encoding": {
        "x": {"datum": {"year":2020,"month":5,"date":27,"hours":7,"utc":true}, "type": "temporal", "scale": {"type": "utc", "nice": false, "domain": [{"year":2018,"month":10,"date":22,"hours":4,"utc":true},{"year":2020,"month":5,"date":13,"hours":23,"utc":true}]}},
        "y": {"datum": 10748, "type": "quantitative", "scale": {"type": "log", "nice": false, "domain": [9997, 14214]}},
        "text": {"field": "t", "type": "nominal"}
      }
    }
  ]
}
